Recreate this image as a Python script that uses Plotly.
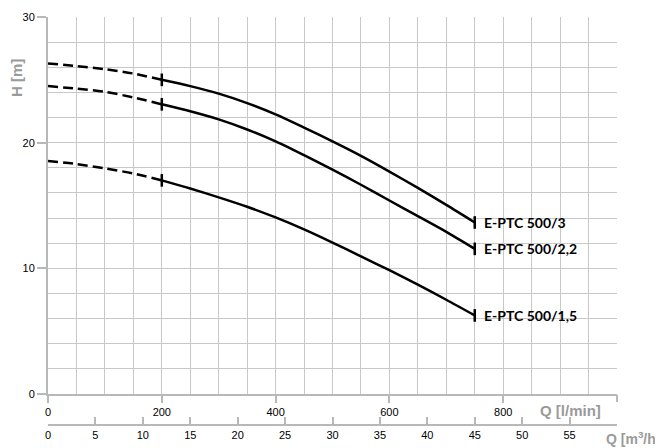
import plotly.graph_objects as go

# Flow (l/min) and head (m)
q_dash = [0, 50, 100, 150, 200]
q_solid = [200, 250, 300, 350, 400, 450, 500, 550, 600, 650, 700, 750]

h3_dash = [26.3, 26.1, 25.85, 25.5, 25.0]
h3_solid = [25.0, 24.5, 23.9, 23.15, 22.25, 21.2, 20.1, 18.95, 17.7, 16.4, 15.05, 13.65]

h22_dash = [24.5, 24.3, 24.05, 23.6, 23.05]
h22_solid = [23.05, 22.5, 21.85, 21.05, 20.1, 19.0, 17.85, 16.65, 15.4, 14.15, 12.9, 11.55]

h15_dash = [18.55, 18.3, 17.95, 17.55, 17.0]
h15_solid = [17.0, 16.35, 15.65, 14.9, 14.05, 13.1, 12.05, 10.95, 9.85, 8.7, 7.5, 6.25]

series_names = ["E-PTC 500/3", "E-PTC 500/2,2", "E-PTC 500/1,5"]

x_tickvals = [0, 200, 400, 600, 800]
x_end = [1000]
x2_tickvals = [0, 5, 10, 15, 20, 25, 30, 35, 40, 45, 50, 55]
x2_end = 60
y_tickvals = [0, 10, 20, 30]

GRID = "#c8c8c8"
AXIS = "#b8b8b8"
TITLE = "#9a9a9a"

fig = go.Figure()

curves = [(h3_dash, h3_solid), (h22_dash, h22_solid), (h15_dash, h15_solid)]
for name, (hd, hs) in zip(series_names, curves):
    fig.add_trace(go.Scatter(x=q_dash, y=hd, mode="lines",
                             line=dict(color="black", width=2.5, dash="10px,5px",
                                       shape="spline", smoothing=0.8),
                             hoverinfo="skip", showlegend=False))
    fig.add_trace(go.Scatter(x=q_solid, y=hs, mode="lines",
                             line=dict(color="black", width=2.5, shape="spline", smoothing=0.8),
                             name=name, showlegend=False))
    fig.add_trace(go.Scatter(x=[q_solid[0], q_solid[-1]], y=[hs[0], hs[-1]], mode="markers",
                             marker=dict(symbol="line-ns", size=9,
                                         line=dict(color="black", width=2.5)),
                             hoverinfo="skip", showlegend=False))
    fig.add_annotation(x=q_solid[-1], y=hs[-1], text=name, showarrow=False,
                       xanchor="left", yanchor="middle", xshift=7,
                       font=dict(family="Lato", size=14, color="black", weight="bold"))

# invisible traces to carry the m3/h axis and the end tick axis
fig.add_trace(go.Scatter(x=[0, 60], y=[0, 0], xaxis="x2", yaxis="y", mode="markers",
                         marker=dict(opacity=0), hoverinfo="skip", showlegend=False))
fig.add_trace(go.Scatter(x=[0, 1000], y=[0, 0], xaxis="x3", yaxis="y", mode="markers",
                         marker=dict(opacity=0), hoverinfo="skip", showlegend=False))

# the page body adds an 8px offset; size the figure to sit in the window
OFF = 8
W, H = 663 - OFF, 448 - OFF
plot_left, plot_right = 48 - OFF, 617 - OFF
plot_top, plot_bottom, x2_line = 17 - OFF, 394 - OFF, 425 - OFF
area_h = x2_line - plot_top
ydom0 = (x2_line - plot_bottom) / area_h


def py(screen_y):
    return (x2_line - (screen_y - OFF)) / area_h


tickfont = dict(family="Liberation Sans", size=11, color="black")

fig.update_layout(
    width=W, height=H,
    margin=dict(l=plot_left, r=W - plot_right, t=plot_top, b=H - x2_line),
    plot_bgcolor="white", paper_bgcolor="white",
    showlegend=False,
    xaxis=dict(range=[0, 1000], tickmode="array", tickvals=x_tickvals,
               showgrid=True, gridcolor=GRID, gridwidth=1,
               minor=dict(dtick=50, tick0=0, showgrid=True, gridcolor=GRID, gridwidth=1, ticks=""),
               ticks="outside", ticklen=7, tickcolor=AXIS, tickwidth=1.5,
               showline=True, linecolor=AXIS, linewidth=2, automargin=False,
               zeroline=False, tickfont=tickfont, anchor="y"),
    xaxis3=dict(range=[0, 1000], overlaying="x", anchor="y", side="bottom",
                tickmode="array", tickvals=x_end, showticklabels=False,
                showgrid=False, ticks="outside", ticklen=7, tickcolor=AXIS, tickwidth=1.5,
                showline=False, zeroline=False, automargin=False),
    xaxis2=dict(range=[0, 60], overlaying="x", anchor="free", position=0, side="bottom",
                tickmode="array", tickvals=x2_tickvals,
                minor=dict(tick0=0, dtick=x2_end, ticks="inside", ticklen=7,
                           tickcolor=AXIS, tickwidth=1.5, showgrid=False),
                showgrid=False, ticks="inside", ticklen=7, tickcolor=AXIS, tickwidth=1.5,
                showline=True, linecolor=AXIS, linewidth=2, zeroline=False,
                automargin=False, tickfont=tickfont),
    yaxis=dict(range=[0, 30], domain=[ydom0, 1], tickmode="array", tickvals=y_tickvals,
               showgrid=True, gridcolor=GRID, gridwidth=1,
               minor=dict(dtick=2, tick0=0, showgrid=True, gridcolor=GRID, gridwidth=1, ticks=""),
               ticks="outside", ticklen=9, tickcolor=AXIS, tickwidth=1.5,
               showline=True, linecolor=AXIS, linewidth=2, automargin=False,
               zeroline=False, tickfont=tickfont),
)

titlefont = dict(family="Liberation Sans", size=15, color=TITLE, weight="bold")
fig.add_annotation(xref="paper", yref="paper", x=0, y=py(78),
                   xshift=-32, text="H [m]", textangle=-90, showarrow=False,
                   xanchor="center", yanchor="middle", font=titlefont)
fig.add_annotation(xref="paper", yref="paper", x=1, y=py(410),
                   xshift=-14, text="Q [l/min]", showarrow=False,
                   xanchor="right", yanchor="middle", font=titlefont)
fig.add_annotation(xref="paper", yref="paper", x=1, y=py(438),
                   xshift=-13, text="Q [m<sup>3</sup>/h]", showarrow=False,
                   xanchor="left", yanchor="middle",
                   font=dict(family="Liberation Sans", size=14, color=TITLE, weight="bold"))

fig.write_html("out.html")
